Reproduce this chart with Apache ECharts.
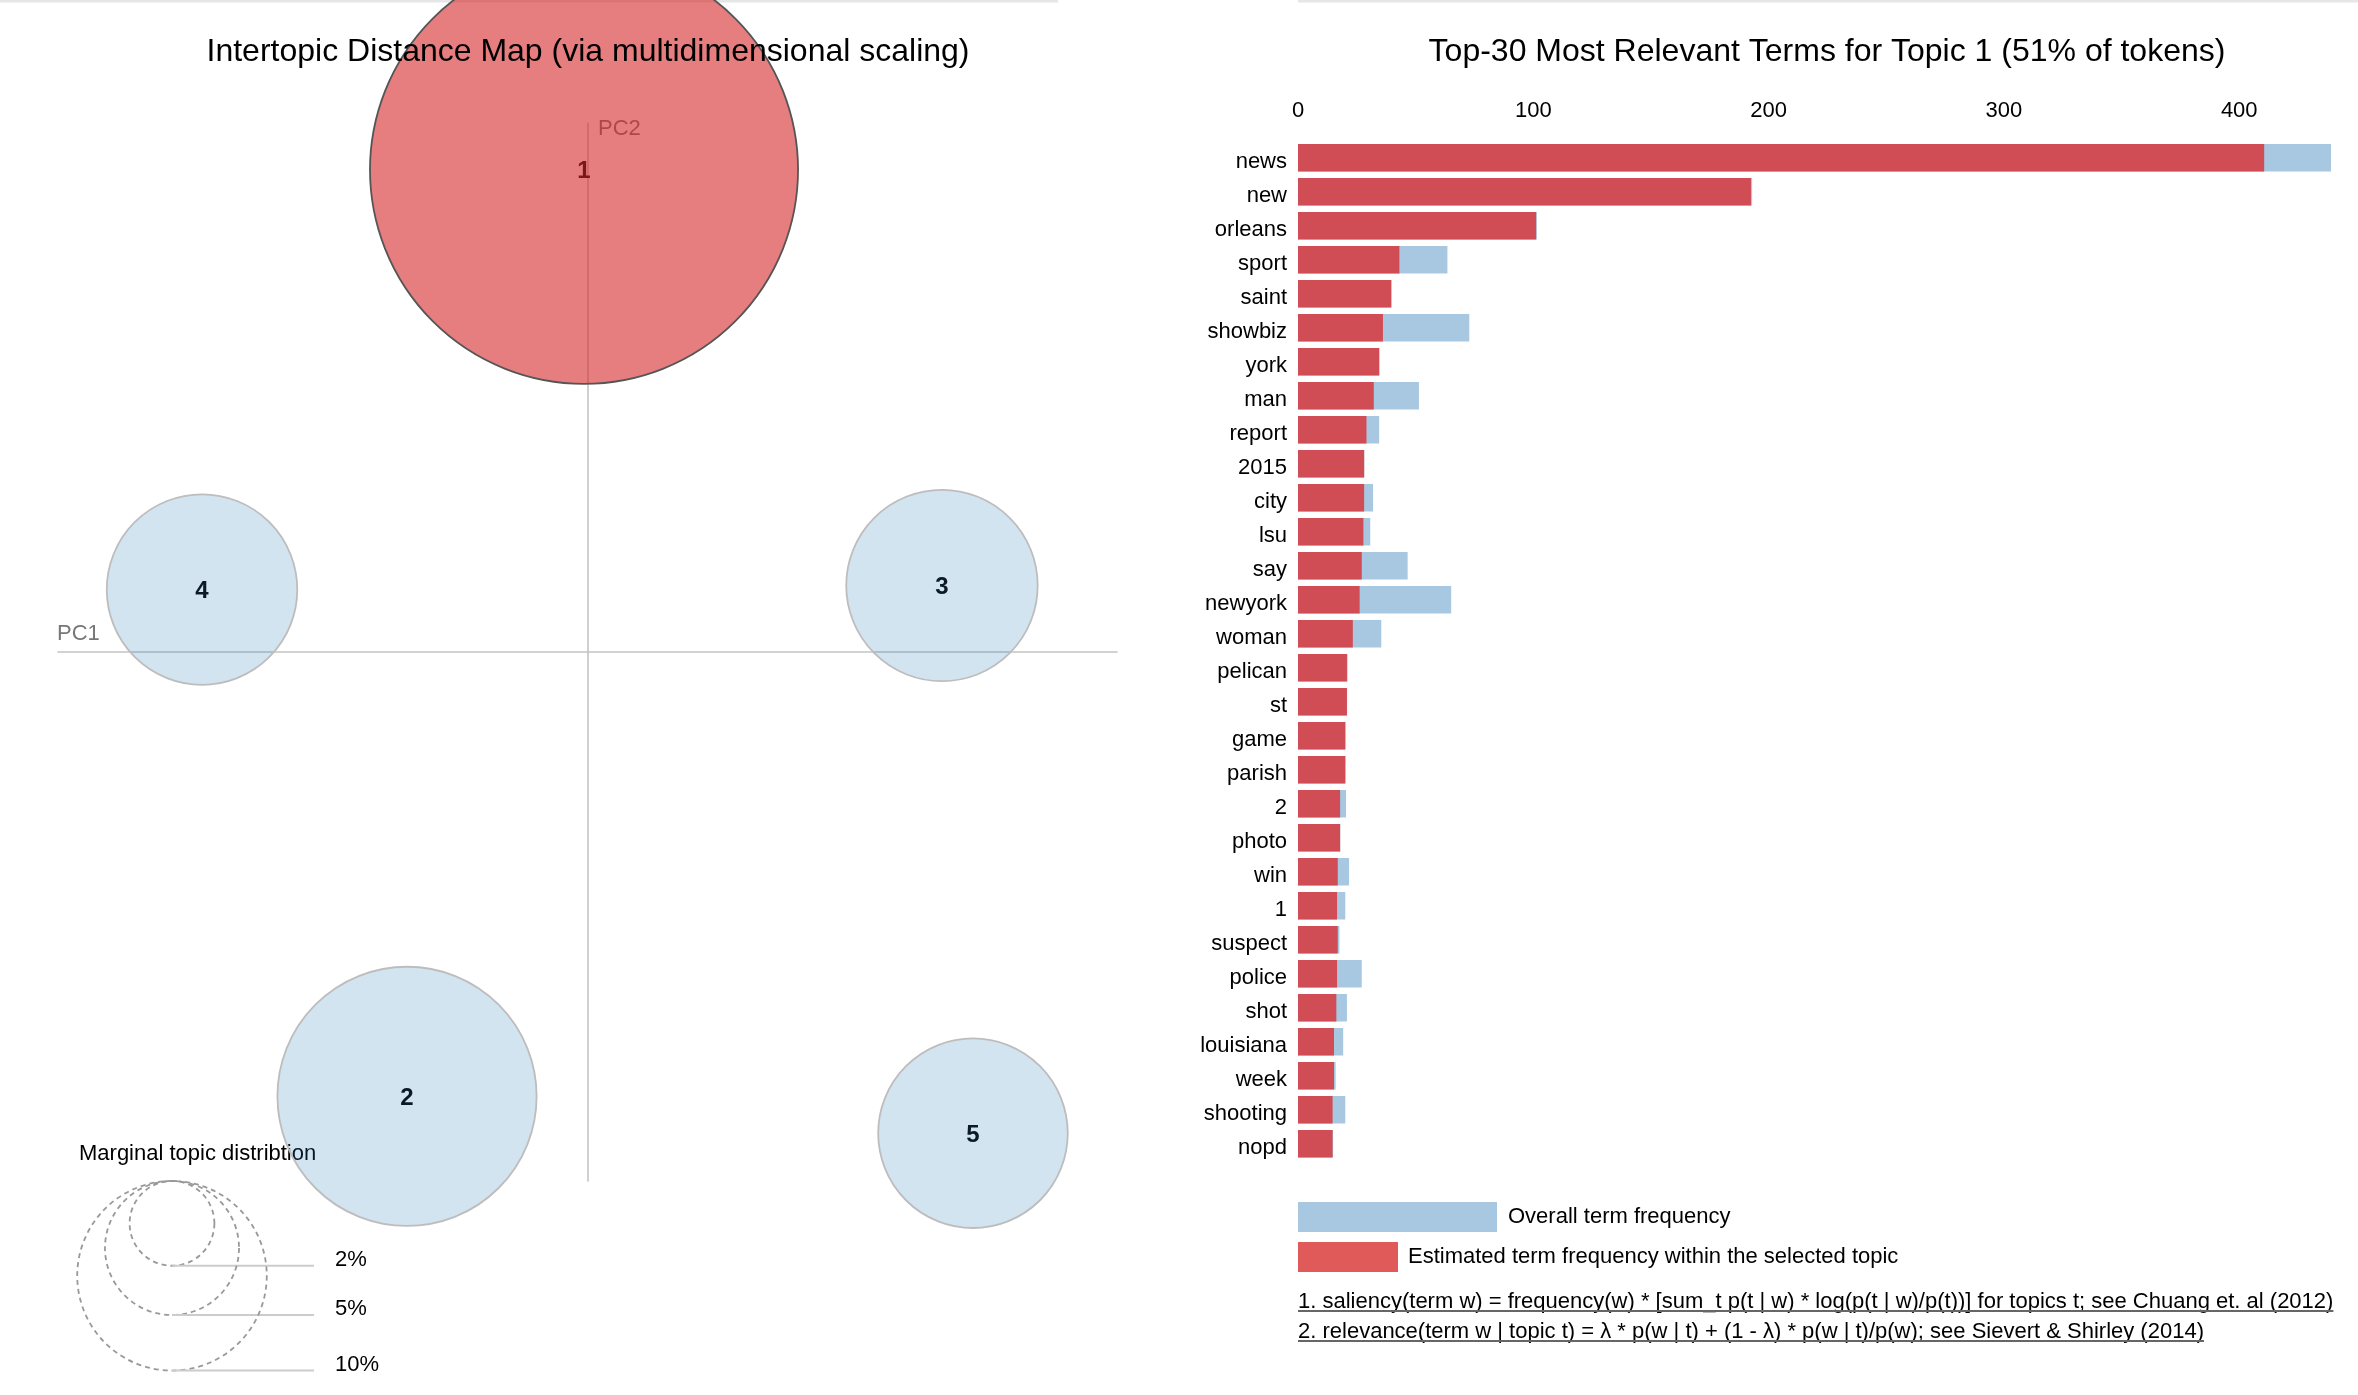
<!DOCTYPE html>
<html><head><meta charset="utf-8">
<script src="https://cdn.jsdelivr.net/npm/echarts@6/dist/echarts.min.js"></script>
<style>html,body{margin:0;padding:0;background:#fff}#c{width:2358px;height:1395px}</style>
</head><body><div id="c"></div>
<script>
// ---- data ----
const topicIds = [1, 2, 3, 4, 5];
const topicPC1 = [-0.0023, -0.1193, 0.2343, -0.2548, 0.2548];
const topicPC2 = [0.319, -0.294, 0.044, 0.0413, -0.3184];
const topicShare = [51.0, 18.7, 10.2, 10.1, 10.0];
const legendShares = [2, 5, 10];
const selectedTopic = 1;

const terms = ['news','new','orleans','sport','saint','showbiz','york','man','report','2015','city','lsu','say','newyork','woman','pelican','st','game','parish','2','photo','win','1','suspect','police','shot','louisiana','week','shooting','nopd'];
const termFreqTopic = [410.6,192.5,101.2,43.1,39.6,36.1,34.5,32.2,29.1,28.1,28.1,27.8,27.1,26.2,23.3,20.8,20.8,20.1,20.1,17.9,17.9,16.9,16.6,16.9,16.6,16.3,15.3,15.3,14.7,14.7];
const termFreqTotal = [439.0,193.0,101.5,63.5,39.8,72.8,34.6,51.4,34.5,28.2,31.9,30.7,46.6,65.1,35.4,21.1,20.9,20.2,20.2,20.4,18.0,21.7,20.1,17.6,27.1,20.8,19.2,16.0,20.1,14.9];
const xTickStep = 100;

const leftTitle = 'Intertopic Distance Map (via multidimensional scaling)';
const rightTitle = 'Top-30 Most Relevant Terms for Topic 1 (51% of tokens)';
const legendTitle = 'Marginal topic distribtion';
const barLegend = ['Overall term frequency', 'Estimated term frequency within the selected topic'];
const notes = ['1. saliency(term w) = frequency(w) * [sum_t p(t | w) * log(p(t | w)/p(t))] for topics t; see Chuang et. al (2012)',
               '2. relevance(term w | topic t) = \u03bb * p(w | t) + (1 - \u03bb) * p(w | t)/p(w); see Sievert & Shirley (2014)'];

// ---- styles ----
const FONT = '"Liberation Sans", Arial, Helvetica, sans-serif';
const K = 29.97; // radius px per sqrt(percent)
const rad = p => K * Math.sqrt(p);
const RED_BAR = '#D14D55', BLUE_BAR = '#A8C8E2';

const cv = document.createElement('canvas').getContext('2d');
function tw(t, size) { cv.font = size + 'px ' + FONT; return cv.measureText(t).width; }

const chart = echarts.init(document.getElementById('c'), null, {renderer: 'canvas'});

const scatterData = topicIds.map((id, i) => {
  const sel = id === selectedTopic;
  return {
    value: [topicPC1[i], topicPC2[i], topicShare[i], id],
    itemStyle: sel
      ? {color: 'rgba(214,39,40,0.6)', borderColor: '#555', borderWidth: 1.8, opacity: 1}
      : {color: 'rgba(31,119,180,0.2)', borderColor: '#bdbdbd', borderWidth: 1.8, opacity: 1},
    label: {color: sel ? '#7a1818' : '#0b1a26'}
  };
});

const graphics = [];
// top rules
graphics.push({type: 'rect', shape: {x: 0, y: 0, width: 1058, height: 2.5}, style: {fill: '#e6e6e6'}});
graphics.push({type: 'rect', shape: {x: 1298, y: 0, width: 1060, height: 2.5}, style: {fill: '#e6e6e6'}});
// titles (drawn above the circles)
graphics.push({type: 'text', z: 100, style: {x: 588, y: 52, text: leftTitle, font: '32px ' + FONT, fill: '#000', align: 'center', verticalAlign: 'middle'}});
graphics.push({type: 'text', z: 100, style: {x: 1827, y: 52, text: rightTitle, font: '32px ' + FONT, fill: '#000', align: 'center', verticalAlign: 'middle'}});
// PC labels
graphics.push({type: 'text', style: {x: 598, y: 129, text: 'PC2', font: '22px ' + FONT, fill: '#777', align: 'left', verticalAlign: 'middle'}});
graphics.push({type: 'text', style: {x: 57, y: 634, text: 'PC1', font: '22px ' + FONT, fill: '#777', align: 'left', verticalAlign: 'middle'}});
// marginal legend
graphics.push({type: 'text', style: {x: 79, y: 1154, text: legendTitle, font: '22px ' + FONT, fill: '#000', align: 'left', verticalAlign: 'middle'}});
const lcx = 172, ltop = 1181;
legendShares.forEach(p => {
  const r = rad(p);
  graphics.push({type: 'circle', shape: {cx: lcx, cy: ltop + r, r: r}, style: {fill: 'none', stroke: '#999', lineWidth: 1.8, lineDash: [5, 4]}});
  graphics.push({type: 'line', shape: {x1: lcx, y1: ltop + 2 * r, x2: 314, y2: ltop + 2 * r}, style: {stroke: '#ccc', lineWidth: 2}});
  graphics.push({type: 'text', style: {x: 335, y: ltop + 2 * r - 6, text: p + '%', font: '22px ' + FONT, fill: '#000', align: 'left', verticalAlign: 'middle'}});
});
// bar legend
graphics.push({type: 'rect', shape: {x: 1298, y: 1202, width: 199, height: 30}, style: {fill: BLUE_BAR}});
graphics.push({type: 'text', style: {x: 1508, y: 1217, text: barLegend[0], font: '22px ' + FONT, fill: '#000', align: 'left', verticalAlign: 'middle'}});
graphics.push({type: 'rect', shape: {x: 1298, y: 1242, width: 100, height: 30}, style: {fill: '#E05A5A'}});
graphics.push({type: 'text', style: {x: 1408, y: 1257, text: barLegend[1], font: '22px ' + FONT, fill: '#000', align: 'left', verticalAlign: 'middle'}});
// footnotes
[[notes[0], 1302], [notes[1], 1332]].forEach(([t, y]) => {
  graphics.push({type: 'text', style: {x: 1298, y: y, text: t, font: '22px ' + FONT, fill: '#000', align: 'left', verticalAlign: 'middle'}});
  const w = tw(t, 22);
  graphics.push({type: 'line', shape: {x1: 1298, y1: y + 9, x2: 1298 + w, y2: y + 9}, style: {stroke: '#666', lineWidth: 2}});
});

const option = {
  animation: false,
  backgroundColor: '#fff',
  textStyle: {fontFamily: FONT},
  graphic: {elements: graphics},
  grid: [
    {left: 58, top: 123, width: 1059, height: 1058},
    {left: 1298, top: 140.7, width: 1033, height: 1020}
  ],
  xAxis: [
    {gridIndex: 0, type: 'value', min: -0.35, max: 0.35,
     axisLine: {show: true, onZero: true, lineStyle: {color: '#c4c4c4', width: 1.6}},
     axisTick: {show: false}, axisLabel: {show: false}, splitLine: {show: false}},
    {gridIndex: 1, type: 'value', position: 'top', min: 0, max: 'dataMax', interval: xTickStep,
     axisLine: {show: false}, axisTick: {show: false}, splitLine: {show: false},
     axisLabel: {fontSize: 22, color: '#000', margin: 19, fontFamily: FONT,
       formatter: v => (v % xTickStep === 0 ? String(v) : '')}}
  ],
  yAxis: [
    {gridIndex: 0, type: 'value', min: -0.35, max: 0.35,
     axisLine: {show: true, onZero: true, lineStyle: {color: '#c4c4c4', width: 1.6}},
     axisTick: {show: false}, axisLabel: {show: false}, splitLine: {show: false}},
    {gridIndex: 1, type: 'category', data: terms, inverse: true,
     axisLine: {show: false}, axisTick: {show: false}, splitLine: {show: false},
     axisLabel: {fontSize: 22, color: '#000', margin: 11, fontFamily: FONT, verticalAlign: 'top', lineHeight: 9}}
  ],
  series: [
    {type: 'scatter', xAxisIndex: 0, yAxisIndex: 0, clip: false, z: 3,
     symbolSize: v => 2 * rad(v[2]),
     data: scatterData,
     label: {show: true, position: 'inside', formatter: p => String(p.value[3]),
       fontSize: 24, fontWeight: 'bold', fontFamily: FONT, offset: [0, 2]}},
    {type: 'bar', name: 'Overall term frequency', xAxisIndex: 1, yAxisIndex: 1,
     data: termFreqTotal, barWidth: 27.5, itemStyle: {color: BLUE_BAR}},
    {type: 'bar', name: 'Estimated term frequency within the selected topic', xAxisIndex: 1, yAxisIndex: 1,
     data: termFreqTopic, barWidth: 27.5, barGap: '-100%', itemStyle: {color: RED_BAR}}
  ]
};
chart.setOption(option);
</script>
</body></html>
